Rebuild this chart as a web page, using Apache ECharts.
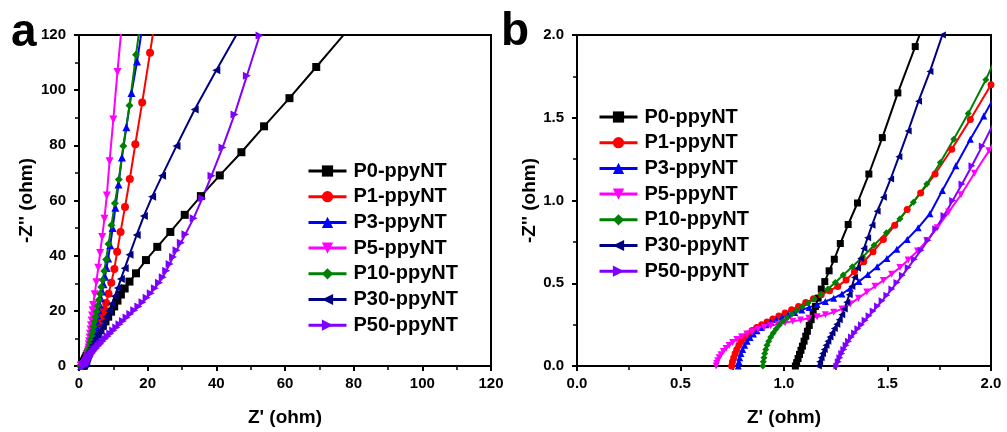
<!DOCTYPE html>
<html>
<head>
<meta charset="utf-8">
<script src="https://cdn.jsdelivr.net/npm/echarts@6/dist/echarts.min.js"></script>
<style>html,body{margin:0;padding:0;background:#fff}#c{width:1007px;height:432px}</style>
</head>
<body>
<div id="c"></div>
<script>
// ---- data: [Z', -Z''] pairs (ohm) ----
const seriesNames = ['P0-ppyNT','P1-ppyNT','P3-ppyNT','P5-ppyNT','P10-ppyNT','P30-ppyNT','P50-ppyNT'];
const xTicksA = [0,20,40,60,80,100,120];
const xTicksB = [0.0,0.5,1.0,1.5,2.0];

const p0 = [[1.055,0],[1.061,0.02],[1.068,0.045],[1.075,0.07],[1.082,0.095],[1.089,0.12],[1.097,0.15],[1.105,0.18],[1.113,0.21],[1.122,0.245],[1.131,0.28],[1.141,0.32],[1.152,0.36],[1.165,0.41],[1.18,0.465],[1.197,0.51],[1.218,0.575],[1.243,0.645],[1.272,0.74],[1.31,0.855],[1.355,0.985],[1.41,1.16],[1.475,1.38],[1.55,1.65],[1.634,1.93],[1.73,2.25],[1.85,2.62],[2.0,3.05],[2.2,3.6],[2.45,4.25],[2.75,5.0],[3.1,5.85],[3.5,6.8],[3.95,7.85],[4.45,9.0],[5.0,10.25],[5.6,11.6],[6.25,13.05],[6.95,14.6],[7.7,16.2],[8.5,17.9],[9.35,19.7],[10.25,21.6],[11.2,23.7],[12.2,25.9],[13.3,28.1],[14.7,30.6],[16.6,33.6],[19.5,38.4],[22.8,43.2],[26.6,48.6],[30.8,54.8],[35.5,61.6],[41.0,69.1],[47.3,77.5],[53.9,86.9],[61.3,97.1],[69.1,108.4],[77.2,120.2],[85,131]];

const p1 = [[0.747,0],[0.751,0.025],[0.757,0.05],[0.764,0.075],[0.772,0.1],[0.782,0.125],[0.794,0.148],[0.809,0.172],[0.826,0.194],[0.846,0.215],[0.868,0.233],[0.892,0.25],[0.918,0.266],[0.946,0.284],[0.975,0.302],[1.005,0.32],[1.037,0.34],[1.07,0.36],[1.105,0.383],[1.142,0.406],[1.18,0.43],[1.22,0.455],[1.26,0.481],[1.3,0.52],[1.34,0.57],[1.385,0.63],[1.43,0.69],[1.48,0.765],[1.535,0.85],[1.595,0.945],[1.66,1.045],[1.73,1.16],[1.81,1.31],[1.9,1.49],[2.0,1.7],[2.25,2.3],[2.5,2.95],[2.8,3.75],[3.1,4.6],[3.45,5.6],[3.8,6.7],[4.2,8.0],[4.6,9.4],[5.0,10.9],[5.45,12.6],[5.9,14.4],[6.35,16.3],[6.8,18.3],[7.3,20.4],[7.9,22.8],[8.6,26.2],[9.4,30.2],[10.3,35.2],[11.1,41.4],[12.1,48.6],[13.4,57.6],[14.8,67.8],[16.4,80.4],[18.4,95.5],[20.7,113.6],[21.6,121]];

const p3 = [[0.779,0],[0.782,0.025],[0.786,0.05],[0.792,0.075],[0.8,0.1],[0.81,0.125],[0.822,0.15],[0.836,0.172],[0.852,0.193],[0.87,0.213],[0.89,0.232],[0.912,0.25],[0.936,0.266],[0.962,0.281],[0.99,0.295],[1.02,0.309],[1.052,0.323],[1.086,0.338],[1.122,0.354],[1.16,0.371],[1.2,0.39],[1.24,0.41],[1.28,0.435],[1.32,0.47],[1.362,0.51],[1.405,0.553],[1.45,0.6],[1.497,0.65],[1.545,0.705],[1.595,0.765],[1.648,0.835],[1.705,0.92],[1.765,1.06],[1.83,1.21],[1.9,1.37],[1.965,1.51],[2.035,1.67],[2.11,1.86],[2.2,2.12],[2.3,2.45],[2.41,2.85],[2.53,3.32],[2.66,3.87],[2.8,4.5],[2.96,5.25],[3.13,6.1],[3.32,7.05],[3.52,8.1],[3.74,9.25],[3.97,10.5],[4.22,11.85],[4.48,13.3],[4.76,14.85],[5.05,16.5],[5.36,18.3],[5.68,20.2],[6.02,22.3],[6.38,24.6],[6.76,27.0],[7.16,29.6],[7.58,32.4],[8.02,35.5],[8.5,39.0],[9.1,43.8],[9.8,50.0],[10.6,57.4],[11.5,65.8],[12.5,75.6],[13.8,86.6],[15.3,99.0],[16.9,110.4],[18.2,121]];

const p5 = [[0.672,0],[0.675,0.015],[0.68,0.032],[0.687,0.05],[0.696,0.068],[0.707,0.087],[0.72,0.105],[0.735,0.124],[0.752,0.142],[0.772,0.16],[0.795,0.177],[0.82,0.193],[0.846,0.207],[0.874,0.22],[0.904,0.232],[0.936,0.243],[0.97,0.253],[1.005,0.262],[1.042,0.27],[1.08,0.278],[1.12,0.288],[1.16,0.298],[1.2,0.31],[1.24,0.325],[1.28,0.345],[1.32,0.375],[1.36,0.41],[1.4,0.447],[1.44,0.482],[1.48,0.517],[1.52,0.555],[1.56,0.595],[1.6,0.64],[1.645,0.695],[1.69,0.758],[1.74,0.835],[1.795,0.93],[1.855,1.035],[1.92,1.165],[1.99,1.3],[2.06,1.45],[2.13,1.65],[2.2,1.9],[2.27,2.25],[2.34,2.7],[2.42,3.3],[2.5,4.0],[2.58,4.8],[2.67,5.7],[2.76,6.7],[2.86,7.8],[2.97,9.0],[3.09,10.3],[3.22,11.7],[3.36,13.2],[3.5,14.8],[3.65,16.5],[3.8,18.3],[3.95,20.2],[4.1,22.1],[4.55,26.0],[5.05,30.4],[5.6,35.6],[6.15,41.0],[6.75,46.8],[7.4,53.4],[8.1,61.8],[8.9,74.2],[10.0,89.4],[11.2,106.6],[12.3,121.5]];

const p10 = [[0.898,0],[0.9,0.025],[0.903,0.05],[0.907,0.075],[0.912,0.1],[0.918,0.125],[0.926,0.15],[0.936,0.175],[0.948,0.2],[0.962,0.224],[0.978,0.247],[0.996,0.27],[1.016,0.292],[1.038,0.314],[1.062,0.336],[1.088,0.358],[1.116,0.38],[1.146,0.405],[1.178,0.432],[1.212,0.465],[1.248,0.505],[1.286,0.55],[1.33,0.6],[1.38,0.658],[1.435,0.73],[1.495,0.805],[1.56,0.89],[1.625,0.99],[1.69,1.1],[1.755,1.23],[1.82,1.37],[1.89,1.525],[1.975,1.73],[2.07,1.99],[2.16,2.28],[2.26,2.66],[2.37,3.12],[2.5,3.7],[2.64,4.4],[2.8,5.25],[2.97,6.2],[3.15,7.3],[3.35,8.5],[3.56,9.8],[3.78,11.2],[4.01,12.7],[4.25,14.3],[4.52,16.1],[4.8,17.9],[5.1,19.8],[5.42,21.8],[5.76,23.9],[6.12,26.2],[6.5,28.6],[6.9,31.2],[7.35,34.4],[7.9,38.6],[8.6,44.2],[9.45,51.0],[10.45,59.0],[11.6,67.6],[12.9,79.8],[14.7,94.4],[16.6,112.8],[17.6,122]];

const p30 = [[1.166,0],[1.172,0.025],[1.179,0.05],[1.186,0.075],[1.194,0.1],[1.203,0.125],[1.212,0.15],[1.222,0.175],[1.232,0.2],[1.243,0.226],[1.255,0.253],[1.267,0.28],[1.279,0.31],[1.291,0.345],[1.303,0.385],[1.315,0.43],[1.328,0.48],[1.341,0.535],[1.355,0.59],[1.37,0.65],[1.386,0.71],[1.404,0.775],[1.425,0.85],[1.45,0.935],[1.48,1.02],[1.515,1.13],[1.555,1.265],[1.6,1.42],[1.65,1.6],[1.705,1.78],[1.765,2.0],[1.85,2.25],[1.95,2.55],[2.08,2.9],[2.24,3.3],[2.44,3.75],[2.68,4.3],[2.96,4.95],[3.28,5.7],[3.64,6.6],[4.04,7.6],[4.48,8.75],[4.96,10.0],[5.48,11.4],[6.04,12.9],[6.64,14.4],[7.28,16.1],[7.98,17.9],[8.75,20.0],[9.55,22.5],[10.4,25.3],[11.3,28.3],[12.2,31.5],[13.3,35.4],[14.7,40.3],[16.8,47.5],[18.9,54.4],[21.3,61.4],[24.2,69.0],[28.4,79.8],[33.7,93.0],[40.0,107.2],[46.5,121.5]];

const p50 = [[1.255,0],[1.262,0.025],[1.27,0.05],[1.279,0.075],[1.289,0.1],[1.3,0.125],[1.312,0.15],[1.326,0.175],[1.341,0.2],[1.357,0.225],[1.374,0.25],[1.392,0.276],[1.411,0.303],[1.431,0.332],[1.452,0.362],[1.474,0.394],[1.497,0.428],[1.521,0.465],[1.546,0.505],[1.572,0.548],[1.6,0.595],[1.63,0.645],[1.662,0.7],[1.696,0.76],[1.733,0.83],[1.773,0.91],[1.815,1.0],[1.86,1.1],[1.908,1.21],[1.958,1.33],[2.01,1.46],[2.07,1.6],[2.14,1.76],[2.22,1.94],[2.32,2.15],[2.44,2.4],[2.6,2.72],[2.8,3.1],[3.05,3.55],[3.35,4.05],[3.7,4.6],[4.1,5.2],[4.55,5.85],[5.05,6.55],[5.6,7.3],[6.2,8.1],[6.85,8.95],[7.55,9.85],[8.3,10.8],[9.1,11.8],[9.95,12.85],[10.85,13.95],[11.8,15.1],[12.8,16.3],[13.85,17.55],[14.95,18.85],[16.1,20.2],[17.3,21.6],[18.5,23.1],[19.7,24.7],[20.9,26.4],[22.1,28.2],[23.3,30.2],[24.4,32.2],[25.4,34.5],[26.4,37.0],[27.4,39.5],[28.4,42.0],[29.65,44.7],[31.0,47.8],[33.4,53.6],[35.9,60.8],[38.6,69.0],[41.8,79.2],[45.3,91.2],[48.9,105.2],[52.6,119.8],[56.0,133]];

const allData = [p0, p1, p3, p5, p10, p30, p50];

// ---- styling ----
const colors = ['#000000','#ff0000','#0000ff','#ff00ff','#008000','#000080','#8000ff'];
const symbols = ['rect','circle','triangle','path://M0,0 L10,0 L5,10 Z','diamond','path://M10,0 L10,10 L0,5 Z','path://M0,0 L0,10 L10,5 Z'];
const FONT = '"Liberation Sans", Arial, Helvetica, sans-serif';

function xAxisCfg(grid, min, max, interval, fmt) {
  return {
    gridIndex: grid, type: 'value', min: min, max: max, interval: interval,
    axisLine: { show: true, onZero: false, lineStyle: { color: '#000', width: 2 } },
    axisTick: { show: true, inside: false, length: 5, lineStyle: { color: '#000', width: 2 } },
    minorTick: { show: true, splitNumber: 2, length: 4, lineStyle: { color: '#000', width: 1.5 } },
    splitLine: { show: false }, minorSplitLine: { show: false },
    axisLabel: { margin: 10, color: '#000', fontSize: 15, fontWeight: 'bold', fontFamily: FONT, formatter: fmt },
    name: "Z' (ohm)", nameLocation: 'middle', nameGap: 42,
    nameTextStyle: { color: '#000', fontSize: 19, fontWeight: 'bold', fontFamily: FONT }
  };
}
function yAxisCfg(grid, min, max, interval, fmt, gap) {
  return {
    gridIndex: grid, type: 'value', min: min, max: max, interval: interval,
    axisLine: { show: true, onZero: false, lineStyle: { color: '#000', width: 2 } },
    axisTick: { show: true, inside: false, length: 5, lineStyle: { color: '#000', width: 2 } },
    minorTick: { show: true, splitNumber: 2, length: 4, lineStyle: { color: '#000', width: 1.5 } },
    splitLine: { show: false }, minorSplitLine: { show: false },
    axisLabel: { margin: 13, color: '#000', fontSize: 15, fontWeight: 'bold', fontFamily: FONT, formatter: fmt },
    name: "-Z'' (ohm)", nameLocation: 'middle', nameGap: gap,
    nameTextStyle: { color: '#000', fontSize: 19, fontWeight: 'bold', fontFamily: FONT }
  };
}
const fmt1 = v => v.toFixed(1);
const fmt0 = v => String(v);

const series = [];
[0, 1].forEach(g => {
  allData.forEach((d, i) => {
    series.push({
      name: seriesNames[i], type: 'line', xAxisIndex: g, yAxisIndex: g,
      data: d, symbol: symbols[i], symbolSize: g === 0 ? 8 : 7,
      showSymbol: true, clip: true,
      lineStyle: { color: colors[i], width: 2 },
      itemStyle: { color: colors[i] },
      emphasis: { disabled: true }
    });
  });
});

function legendCfg(left, top) {
  return {
    data: seriesNames, orient: 'vertical', left: left, top: top,
    itemWidth: 38, itemHeight: 14, itemGap: 5.7, padding: 0,
    selectedMode: false,
    lineStyle: { width: 3 },
    textStyle: { color: '#000', fontSize: 20, fontWeight: 'bold', fontFamily: FONT, lineHeight: 20, padding: [0, 0, 0, 2] }
  };
}

const chart = echarts.init(document.getElementById('c'), null, { renderer: 'canvas' });
chart.setOption({
  animation: false,
  backgroundColor: '#fff',
  grid: [
    { left: 79, top: 35, width: 412, height: 333, show: true, borderColor: '#000', borderWidth: 2, backgroundColor: 'transparent' },
    { left: 577, top: 35, width: 414, height: 333, show: true, borderColor: '#000', borderWidth: 2, backgroundColor: 'transparent' }
  ],
  xAxis: [xAxisCfg(0, 0, 120, 20, fmt0), xAxisCfg(1, 0, 2, 0.5, fmt1)],
  yAxis: [yAxisCfg(0, 0, 120, 20, fmt0, 43), yAxisCfg(1, 0, 2, 0.5, fmt1, 38)],
  legend: [legendCfg(307, 161), legendCfg(598, 107)],
  graphic: [
    { type: 'text', left: 11, top: 10, style: { text: 'a', fill: '#000', font: 'bold 46px ' + FONT } },
    { type: 'text', left: 501, top: 9, style: { text: 'b', fill: '#000', font: 'bold 46px ' + FONT } }
  ],
  series: series
});
</script>
</body>
</html>
